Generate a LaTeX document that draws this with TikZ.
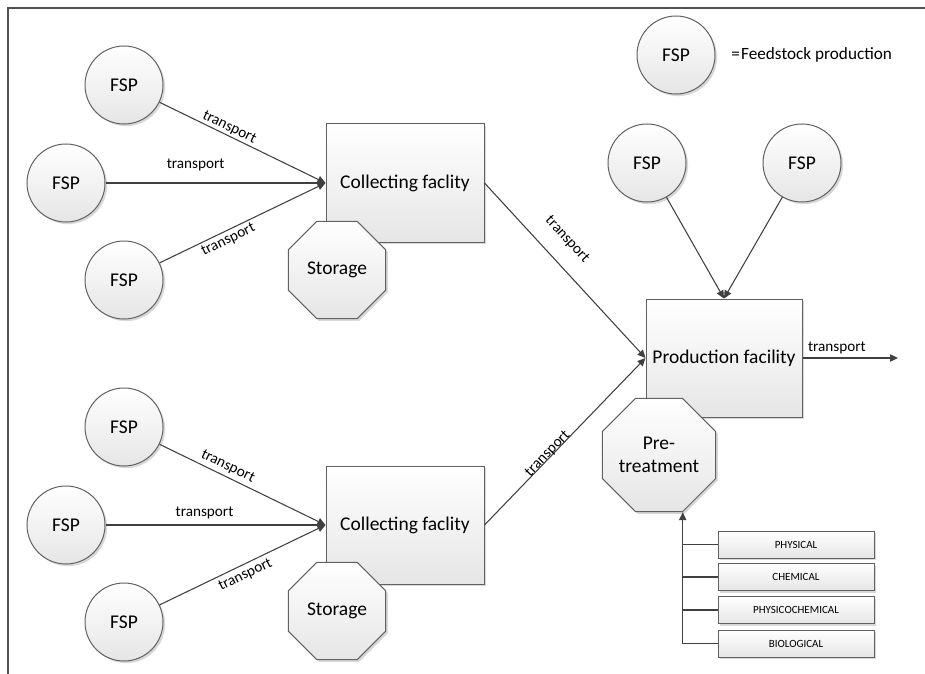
\documentclass[tikz,border=0pt]{standalone}
\usepackage{fontspec}
\setmainfont{Carlito}
\usetikzlibrary{shapes.geometric,arrows.meta,shadows}

\begin{document}
\begin{tikzpicture}[x=0.75pt,y=-0.75pt,
  shapefill/.style={top color=white, bottom color=black!10, draw=black!62, line width=0.75pt,
    drop shadow={shadow xshift=1.6pt, shadow yshift=-1.6pt, fill=black!22, opacity=0.7}},
  bigfont/.style={font=\fontsize{14.6}{17.3}\selectfont},
  fsp/.style={circle, shapefill, minimum size=58.5pt, inner sep=0pt, bigfont},
  facility/.style={rectangle, shapefill, minimum width=118.5pt, minimum height=88.5pt, inner sep=0pt, bigfont},
  octa/.style={regular polygon, regular polygon sides=8, shapefill, minimum size=79pt, inner sep=0pt, align=center, bigfont},
  method/.style={rectangle, shapefill, minimum width=117pt, minimum height=20.25pt, inner sep=0pt, font=\fontsize{8.25}{10}\selectfont},
  flow/.style={draw=black!75, line width=0.8pt, -{Triangle[length=6pt,width=5.5pt]}},
  link/.style={draw=black!75, line width=0.8pt},
  lbl/.style={font=\fontsize{11.4}{13}\selectfont, inner sep=0pt, sloped}
]
\useasboundingbox (0,0) rectangle (925,674);

% frame
\draw[black!68, line width=1.4pt] (925,8) -- (8,8) -- (8,674);

% legend
\node[fsp] (key) at (676,55) {FSP};
\node[anchor=west, inner sep=0pt, font=\fontsize{12.9}{15.5}\selectfont] (keytext) at (731,55) {=\kern1pt Feedstock production};

% upper collection branch
\node[fsp] (a1) at (124,85) {FSP};
\node[fsp] (a2) at (66,183) {FSP};
\node[fsp] (a3) at (124,280) {FSP};
\node[facility] (c1) at (405,183) {Collecting faclity};
\node[octa] (s1) at (337,270) {Storage};

% lower collection branch
\node[fsp] (b1) at (124,427) {FSP};
\node[fsp] (b2) at (66,525) {FSP};
\node[fsp] (b3) at (124,622) {FSP};
\node[facility] (c2) at (405,525) {Collecting faclity};
\node[octa] (s2) at (337,611) {Storage};

% production
\node[fsp] (p1) at (647,163) {FSP};
\node[fsp] (p2) at (802,163) {FSP};
\node[facility, minimum width=117pt] (prod) at (724,358) {Production facility};
\node[octa, minimum size=79.5pt] (pre) at (659,455) {Pre-\\treatment};
\coordinate (out) at (898,358);

% pre-treatment methods
\node[method] (m1) at (796,544.5) {PHYSICAL};
\node[method] (m2) at (796,577) {CHEMICAL};
\node[method] (m3) at (796,610) {PHYSICOCHEMICAL};
\node[method] (m4) at (796,643.5) {BIOLOGICAL};

% transport links, upper branch
\draw[flow] (a1) -- node[lbl, above=1pt, pos=0.40] {transport} (c1.west);
\draw[flow] (a2) -- node[lbl, above=9pt, pos=0.41] {transport} (c1.west);
\draw[flow] (a3) -- node[lbl, below=2pt, pos=0.39] {transport} (c1.west);

% transport links, lower branch
\draw[flow] (b1) -- node[lbl, above=2.5pt, pos=0.385] {transport} (c2.west);
\draw[flow] (b2) -- node[lbl, above=4pt, pos=0.45] {transport} (c2.west);
\draw[flow] (b3) -- node[lbl, below=3pt, pos=0.49] {transport} (c2.west);

% to and from the production facility
\draw[flow] (c1.east) -- node[lbl, above=12pt, pos=0.41] {transport} (prod.west);
\draw[flow] (c2.east) -- node[lbl, above=-2pt, pos=0.41] {transport} (prod.west);
\draw[flow] (p1) -- (prod.north);
\draw[flow] (p2) -- (prod.north);
\draw[flow] (prod.east) -- node[lbl, above=2.5pt, pos=0.36] {transport} (out);

% methods feeding pre-treatment
\draw[flow] (m4.west) -| (pre.corner 6);
\draw[link] (m1.west) -- (m1.west -| pre.corner 6);
\draw[link] (m2.west) -- (m2.west -| pre.corner 6);
\draw[link] (m3.west) -- (m3.west -| pre.corner 6);
\end{tikzpicture}
\end{document}
